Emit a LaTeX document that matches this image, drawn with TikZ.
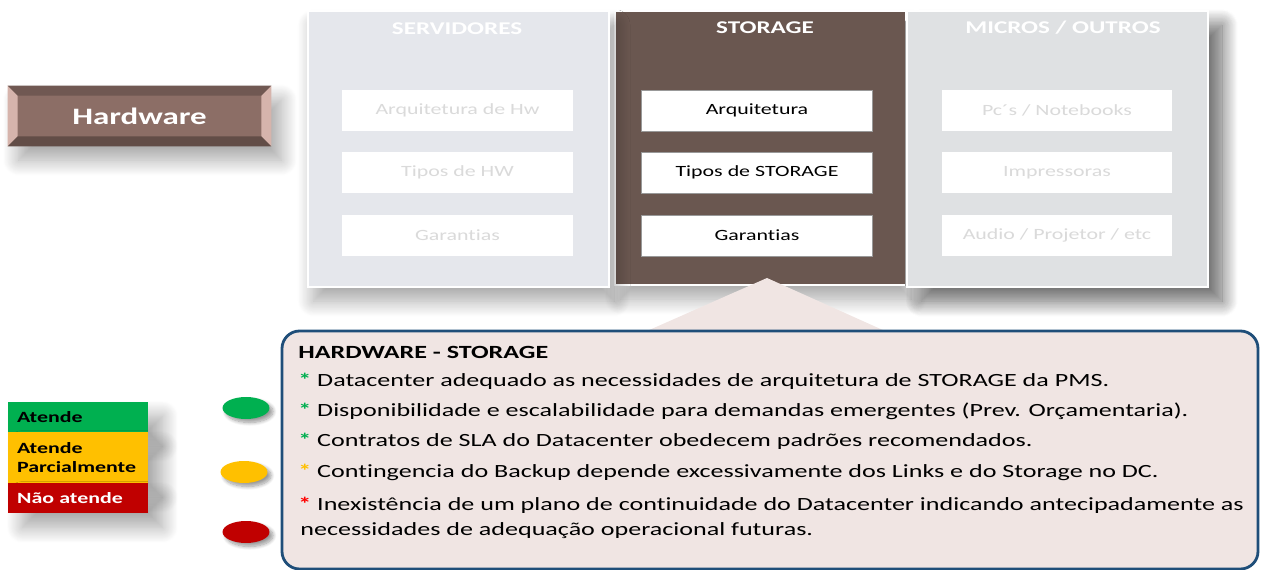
\documentclass[tikz,border=0pt]{standalone}
\usepackage{fontspec}
\setmainfont{Carlito}[FakeStretch=1.4, Ligatures=NoCommon]
\usepackage{tikz}
\usetikzlibrary{shapes,shadows,shadows.blur,positioning,calc}
\definecolor{servgray}{RGB}{229,231,236}
\definecolor{microgray}{RGB}{223,225,227}
\definecolor{storbrown}{RGB}{106,87,80}
\definecolor{hwbrown}{RGB}{140,110,102}
\definecolor{hwlight}{RGB}{214,180,172}
\definecolor{fadetext}{RGB}{218,218,218}
\definecolor{calloutfill}{RGB}{240,229,227}
\definecolor{calloutline}{RGB}{31,78,121}
\definecolor{okgreen}{RGB}{0,176,80}
\definecolor{partyellow}{RGB}{255,192,0}
\definecolor{nored}{RGB}{192,0,0}
\definecolor{starred}{RGB}{255,0,0}

\begin{document}
\begin{tikzpicture}[x=0.02cm, y=-0.02cm,
    softshadow/.style={blur shadow={shadow xshift=#1, shadow yshift=-8pt, shadow blur radius=9pt,
        shadow blur steps=20, shadow opacity=35}},
    softshadow/.default=3pt,
    panel/.style={draw=white, line width=1.6pt, minimum width=6.02cm, minimum height=5.52cm, softshadow},
    paneltitle/.style={font=\fontsize{10.2}{11}\selectfont\bfseries, text=white},
    itembox/.style={fill=white, minimum width=4.62cm, minimum height=0.82cm,
        font=\fontsize{8.9}{10}\selectfont},
    legendbox/.style={minimum width=2.8cm, align=left, anchor=north west, inner xsep=5pt,
        text width=2.45cm, font=\fontsize{8.9}{10.6}\selectfont\bfseries},
    lamp/.style={ellipse, minimum width=0.94cm, minimum height=0.44cm,
        blur shadow={shadow xshift=2pt, shadow yshift=-2pt, shadow blur radius=2pt,
        shadow blur steps=10, shadow opacity=40}},
    bodytext/.style={anchor=base west, inner sep=0pt, font=\fontsize{10.6}{13}\selectfont}]
    \useasboundingbox (0,0) rectangle (1261,570);

    % Hardware button
    \node[fill=hwbrown, minimum width=5.26cm, minimum height=1.2cm, softshadow=6pt] (hw) at (139.5,116) {};
    \fill[hwlight] (hw.north west) -- ++(10,10) -- ($(hw.south west)+(10,-10)$) -- (hw.south west) -- cycle;
    \fill[hwlight] (hw.north east) -- ++(-10,10) -- ($(hw.south east)+(-10,-10)$) -- (hw.south east) -- cycle;
    \fill[hwbrown!80!black] (hw.north west) -- ++(10,10) -- ($(hw.north east)+(-10,10)$) -- (hw.north east) -- cycle;
    \fill[hwbrown!70!black] (hw.south west) -- ++(10,-10) -- ($(hw.south east)+(-10,-10)$) -- (hw.south east) -- cycle;
    \node[text=white, font=\fontsize{13.4}{15}\selectfont\bfseries] (hwlabel) at (hw) {Hardware};

    % Panels
    \node[panel, fill=storbrown, minimum width=5.82cm, minimum height=5.48cm] (stor) at (760.5,148) {};
    \node[panel, fill=servgray] (serv) at (458.5,149) {};
    \node[panel, fill=microgray, softshadow=8pt] (micro) at (1057.5,149) {};

    \node[paneltitle] (servtitle) at (457,29) {SERVIDORES};
    \node[paneltitle] (stortitle) at (765,28) {STORAGE};
    \node[paneltitle] (microtitle) at (1063,28) {MICROS / OUTROS};

    % Items
    \foreach \y/\a/\b/\c [count=\i] in {110.5/Arquitetura de Hw/Arquitetura/Pc´s {/} Notebooks,
                                         172.5/Tipos de HW/Tipos de STORAGE/Impressoras,
                                         235.5/Garantias/Garantias/Audio {/} Projetor {/} etc} {
        \node[itembox, text=fadetext] (servitem\i) at (457.5,\y) {\a};
        \node[itembox, draw=black!40, line width=0.3pt] (storitem\i) at (757,\y) {\b};
        \node[itembox, text=fadetext] (microitem\i) at (1057,\y) {\c};
    }

    % Callout
    \fill[calloutfill] (647,331) -- (767,278) -- (885,331) -- cycle;
    \draw[calloutline, line width=1.6pt, fill=calloutfill, rounded corners=10pt] (282,331) rectangle (1258,569);
    \node[bodytext, font=\fontsize{10.6}{13}\selectfont\bfseries] (calltitle) at (298,359) {HARDWARE - STORAGE};
    \foreach \y/\c/\t [count=\i] in {387/okgreen/Datacenter adequado as necessidades de arquitetura de STORAGE da PMS.,
                                     417/okgreen/Disponibilidade e escalabilidade para demandas emergentes (Prev. Orçamentaria).,
                                     447/okgreen/Contratos de SLA do Datacenter obedecem padrões recomendados.,
                                     478/partyellow/Contingencia do Backup depende excessivamente dos Links e do Storage no DC.,
                                     511/starred/Inexistência de um plano de continuidade do Datacenter indicando antecipadamente as} {
        \node[bodytext] (line\i) at (298,\y) {\textcolor{\c}{\bfseries *} \t};
    }
    \node[bodytext] (line6) at (300,536) {necessidades de adequação operacional futuras.};

    % Legend
    \node[legendbox, fill=okgreen, minimum height=0.6cm, softshadow=8pt] (atende) at (8,402) {Atende};
    \node[legendbox, fill=partyellow, minimum height=1.02cm, softshadow=8pt] (parcial) at (8,432) {Atende\\Parcialmente};
    \node[legendbox, fill=nored, text=white, minimum height=0.6cm, softshadow=8pt] (naoatende) at (8,483) {Não atende};

    % Status lamps
    \node[lamp, fill=okgreen] (lampgreen) at (246,408) {};
    \node[lamp, fill=partyellow] (lampyellow) at (244,472) {};
    \node[lamp, fill=nored] (lampred) at (246,532) {};
\end{tikzpicture}
\end{document}
